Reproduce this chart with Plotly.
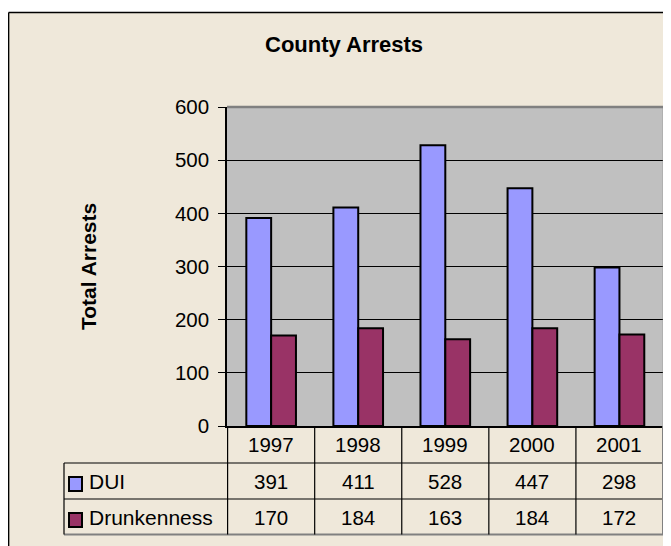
import plotly.graph_objects as go

# ---- data ----
years = ["1997", "1998", "1999", "2000", "2001"]
series_names = ["DUI", "Drunkenness"]
dui = [391, 411, 528, 447, 298]
drunkenness = [170, 184, 163, 184, 172]
y_ticks = [0, 100, 200, 300, 400, 500, 600]
chart_title = "County Arrests"
y_title = "Total Arrests"

# ---- style ----
W, H = 671, 546
OFF = 8  # page body margin: figure starts at page (8, 8)
BEIGE = "#EFE8DA"
PLOT_BG = "#C0C0C0"
COLORS = ["#9999FF", "#993366"]
FONT = "Liberation Sans, Arial, sans-serif"
TXT = 20.5


def px(x):
    """page pixel x -> paper fraction"""
    return (x - OFF) / W


def py(y):
    """page pixel y -> paper fraction"""
    return 1 - (y - OFF) / H


PL, PR, PT, PB = 227, 664, 107, 426  # plot area (page pixels)
ROW_LINES = [463, 499]
TABLE_BOTTOM = 534.5
TABLE_LEFT = 64
BORDER_TOP = 12.5
BORDER_LEFT = 8.6

fig = go.Figure()
for name, vals, col in zip(series_names, [dui, drunkenness], COLORS):
    fig.add_trace(go.Bar(
        x=years, y=vals, name=name,
        marker=dict(color=col, line=dict(color="black", width=2)),
        showlegend=False,
    ))

shapes = []
shapes.append(dict(type="rect", xref="paper", yref="paper", x0=-0.02, x1=1.05,
                   y0=py(BORDER_TOP), y1=1.02, fillcolor="white", line_width=0, layer="below"))
shapes.append(dict(type="line", xref="paper", yref="paper", x0=px(BORDER_LEFT), x1=1.05,
                   y0=py(BORDER_TOP), y1=py(BORDER_TOP), line=dict(color="black", width=1.5)))
shapes.append(dict(type="line", xref="paper", yref="paper", x0=px(BORDER_LEFT), x1=px(BORDER_LEFT),
                   y0=py(BORDER_TOP), y1=-0.05, line=dict(color="black", width=1.5)))

# plot area gray top/right border
shapes.append(dict(type="line", xref="x domain", yref="y domain", x0=0, x1=1, y0=1, y1=1,
                   line=dict(color="#808080", width=2.5)))
shapes.append(dict(type="line", xref="x domain", yref="y domain", x0=1, x1=1, y0=0, y1=1,
                   line=dict(color="#808080", width=2.5)))

# data table grid
for ry in ROW_LINES:
    shapes.append(dict(type="line", xref="paper", yref="paper", x0=px(TABLE_LEFT), x1=px(PR),
                       y0=py(ry), y1=py(ry), line=dict(color="black", width=1.2)))
shapes.append(dict(type="line", xref="paper", yref="paper", x0=px(TABLE_LEFT), x1=px(PR + 1),
                   y0=py(TABLE_BOTTOM), y1=py(TABLE_BOTTOM), line=dict(color="#808080", width=2)))
shapes.append(dict(type="line", xref="paper", yref="paper", x0=px(TABLE_LEFT), x1=px(TABLE_LEFT),
                   y0=py(ROW_LINES[0]), y1=py(TABLE_BOTTOM), line=dict(color="black", width=1.2)))
for i in range(len(years) + 1):
    last = i == len(years)
    shapes.append(dict(type="line", xref="x", yref="paper", x0=i - 0.5, x1=i - 0.5,
                       y0=py(PB), y1=py(TABLE_BOTTOM),
                       line=dict(color="#808080" if last else "black", width=2 if last else 1.2)))

# legend keys in the table
key_rows = [(477, 491), (513, 527)]
for (y0, y1), col in zip(key_rows, COLORS):
    shapes.append(dict(type="rect", xref="paper", yref="paper", x0=px(69), x1=px(82),
                       y0=py(y1), y1=py(y0), fillcolor=col, line=dict(color="black", width=2)))

annotations = []


def ann(text, x, y, xref="paper", size=TXT, xanchor="center", angle=0):
    annotations.append(dict(text=text, xref=xref, yref="paper", x=x, y=y,
                            xanchor=xanchor, yanchor="middle", showarrow=False,
                            textangle=angle,
                            font=dict(size=size, family=FONT, color="black")))


ann("<b>%s</b>" % chart_title, px(343.5), py(45), size=22)
ann("<b>%s</b>" % y_title, px(88.5), py(266.5), size=21, angle=-90)
row_centers = [444.5, 481, 517]
for i, yr in enumerate(years):
    ann(yr, i, py(row_centers[0]), xref="x")
for r, (name, vals) in enumerate(zip(series_names, [dui, drunkenness])):
    yc = row_centers[r + 1]
    ann(name, px(87), py(yc), xanchor="left", size=21)
    for i, v in enumerate(vals):
        ann(str(v), i, py(yc), xref="x")

fig.update_layout(
    width=W, height=H,
    margin=dict(l=0, r=0, t=0, b=0, autoexpand=False),
    paper_bgcolor=BEIGE,
    plot_bgcolor=PLOT_BG,
    barmode="group",
    bargap=0.43,
    bargroupgap=0,
    font=dict(family=FONT, size=TXT, color="black"),
    xaxis=dict(domain=[px(PL), px(PR)], showticklabels=False, ticks="",
               showline=True, linecolor="black", linewidth=1.5, showgrid=False,
               fixedrange=True, zeroline=False, automargin=False),
    yaxis=dict(domain=[py(PB), py(PT)], range=[0, 600], tickvals=y_ticks,
               ticks="outside", ticklen=7, tickcolor="black", tickwidth=1,
               showline=True, linecolor="black", linewidth=1.5,
               showgrid=True, gridcolor="black", gridwidth=1,
               zeroline=False, ticklabelstandoff=5, automargin=False,
               tickfont=dict(size=TXT, family=FONT, color="black")),
    shapes=shapes,
    annotations=annotations,
)

fig.write_html("out.html")
